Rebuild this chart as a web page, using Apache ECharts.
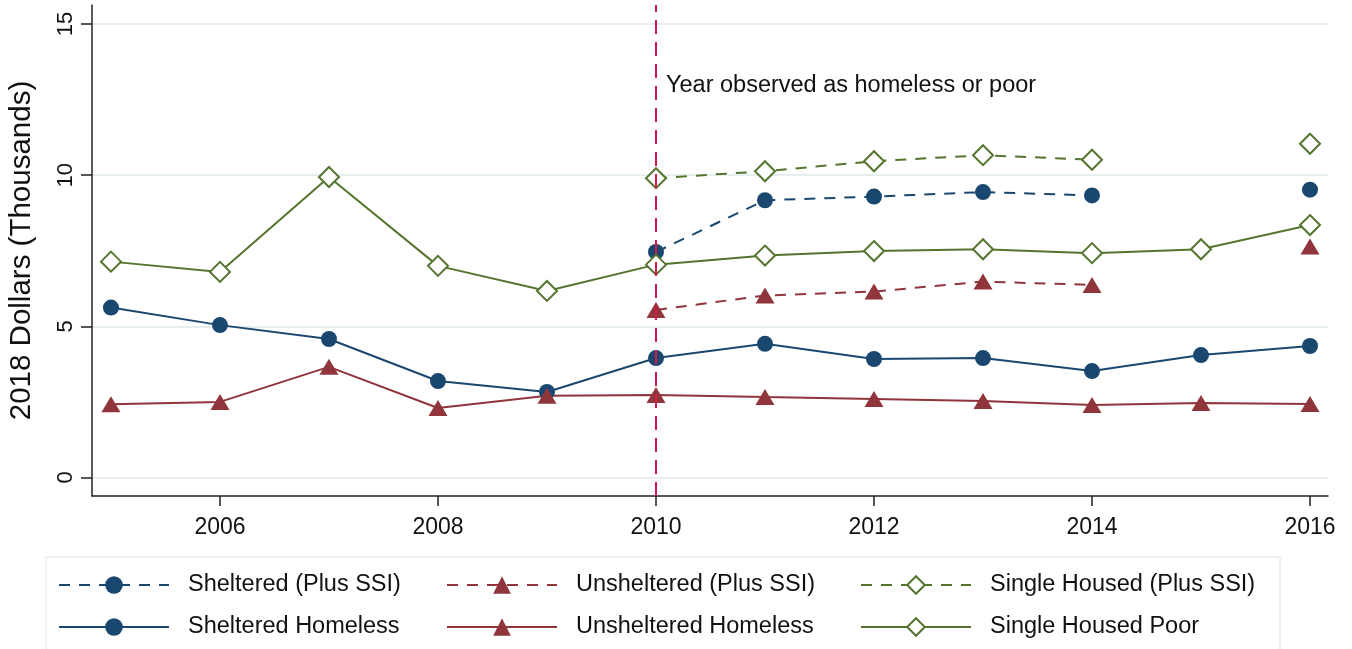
<!DOCTYPE html>
<html>
<head>
<meta charset="utf-8">
<title>Earnings by housing status</title>
<script src="https://cdn.jsdelivr.net/npm/echarts@6/dist/echarts.min.js"></script>
<style>
  html, body { margin: 0; padding: 0; background: #fff; }
  #chart { width: 1352px; height: 649px; }
</style>
</head>
<body>
<div id="chart"></div>
<script>
// Years on the x axis
const years = [2005, 2006, 2007, 2008, 2009, 2010, 2011, 2012, 2013, 2014, 2015, 2016];

// Earnings, 2018 dollars (thousands)
const shelteredHomeless   = [5.62, 5.04, 4.58, 3.19, 2.83, 3.95, 4.42, 3.92, 3.95, 3.52, 4.05, 4.35];
const unshelteredHomeless = [2.42, 2.50, 3.66, 2.30, 2.70, 2.73, 2.66, 2.60, 2.53, 2.40, 2.46, 2.43];
const singleHousedPoor    = [7.14, 6.80, 9.94, 7.00, 6.17, 7.04, 7.34, 7.49, 7.55, 7.42, 7.55, 8.35];

// Earnings plus SSI, observed from 2010 on (no 2015 value)
const shelteredSSI   = [null, null, null, null, null, 7.46, 9.17, 9.29, 9.44, 9.33, null, 9.52];
const unshelteredSSI = [null, null, null, null, null, 5.54, 6.02, 6.15, 6.48, 6.37, null, 7.64];
const singleSSI      = [null, null, null, null, null, 9.90, 10.13, 10.46, 10.66, 10.51, null, 11.04];

// Tick labels
const xTicks = [2006, 2008, 2010, 2012, 2014, 2016];
const yTicks = [0, 5, 10, 15];

const eventYear = 2010;
const eventLabel = 'Year observed as homeless or poor';

const BLUE = '#1a476f', RED = '#90353b', GREEN = '#55752f', VLINE = '#cf1a4b';
const FONT = 'Liberation Sans, Arial, sans-serif';
const DASH = [11, 9];

const pairs = arr => years.map((y, i) => [y, arr[i]]);

function lineSeries(name, data, color, symbol, size, dashed, hollow) {
  return {
    name: name,
    type: 'line',
    data: pairs(data),
    connectNulls: false,
    symbol: symbol,
    symbolSize: size,
    showSymbol: true,
    showAllSymbol: true,
    lineStyle: { color: color, width: 2, type: dashed ? DASH : 'solid' },
    itemStyle: hollow
      ? { color: '#fff', borderColor: color, borderWidth: 2 }
      : { color: color, borderWidth: 0 },
    emphasis: { disabled: true },
    animation: false,
    z: 3
  };
}

const series = [
  lineSeries('Sheltered (Plus SSI)', shelteredSSI, BLUE, 'circle', 16, true, false),
  lineSeries('Unsheltered (Plus SSI)', unshelteredSSI, RED, 'triangle', [19, 16], true, false),
  lineSeries('Single Housed (Plus SSI)', singleSSI, GREEN, 'diamond', [20, 20], true, true),
  lineSeries('Sheltered Homeless', shelteredHomeless, BLUE, 'circle', 16, false, false),
  lineSeries('Unsheltered Homeless', unshelteredHomeless, RED, 'triangle', [19, 16], false, false),
  lineSeries('Single Housed Poor', singleHousedPoor, GREEN, 'diamond', [20, 20], false, true)
];

// reference line and its note
series.push({
  name: 'event',
  type: 'line',
  data: [],
  z: 2,
  animation: false,
  markLine: {
    silent: true,
    symbol: 'none',
    animation: false,
    label: { show: false },
    lineStyle: { color: VLINE, width: 2, type: [14, 8] },
    data: [{ xAxis: eventYear }]
  },
  markPoint: {
    silent: true,
    animation: false,
    symbol: 'circle',
    symbolSize: 0,
    label: {
      show: true,
      position: 'right',
      distance: 10,
      formatter: eventLabel,
      color: '#111',
      fontFamily: FONT,
      fontSize: 23.5
    },
    data: [{ coord: [eventYear, 12.95] }]
  }
});

function legendCol(left, names) {
  return {
    orient: 'vertical',
    left: left,
    top: 573,
    height: 120,
    padding: 0,
    itemWidth: 110,
    itemHeight: 22,
    itemGap: 18,
    data: names,
    selectedMode: false,
    textStyle: {
      fontFamily: FONT,
      fontSize: 23.5,
      color: '#111',
      lineHeight: 22,
      padding: [0, 0, 0, 14]
    }
  };
}

const option = {
  backgroundColor: '#fff',
  animation: false,
  grid: { left: 92, right: 24, top: 5, bottom: 153, containLabel: false, outerBoundsMode: 'none' },
  xAxis: {
    type: 'value',
    min: 2004.826,
    max: 2016.165,
    axisLine: { show: true, onZero: false, lineStyle: { color: '#222', width: 1.5 } },
    axisTick: { show: true, length: 10, lineStyle: { color: '#222', width: 1.5 }, customValues: xTicks },
    axisLabel: { customValues: xTicks, margin: 20, fontFamily: FONT, fontSize: 23, color: '#111', formatter: v => String(v) },
    splitLine: { show: false }
  },
  yAxis: {
    type: 'value',
    min: -0.612,
    max: 15.628,
    name: '2018 Dollars (Thousands)',
    nameLocation: 'middle',
    nameRotate: 90,
    nameGap: 55,
    nameTextStyle: { fontFamily: FONT, fontSize: 29.5, color: '#111' },
    axisLine: { show: true, lineStyle: { color: '#222', width: 1.5 } },
    axisTick: { show: true, length: 11, lineStyle: { color: '#222', width: 1.5 }, customValues: yTicks },
    axisLabel: { customValues: yTicks, rotate: 90, margin: 15, fontFamily: FONT, fontSize: 22, color: '#111', formatter: v => String(v) },
    splitLine: { show: true, lineStyle: { color: '#e6eef0', width: 2 } }
  },
  legend: [
    legendCol(58, ['Sheltered (Plus SSI)', 'Sheltered Homeless']),
    legendCol(446, ['Unsheltered (Plus SSI)', 'Unsheltered Homeless']),
    legendCol(860, ['Single Housed (Plus SSI)', 'Single Housed Poor'])
  ],
  graphic: [{
    type: 'rect',
    silent: true,
    shape: { x: 46, y: 557, width: 1234, height: 100 },
    style: { fill: 'none', stroke: '#e6eef0', lineWidth: 1.5 },
    z: -1
  }],
  series: series
};

const chart = echarts.init(document.getElementById('chart'), null, { renderer: 'canvas' });
chart.setOption(option);
</script>
</body>
</html>
